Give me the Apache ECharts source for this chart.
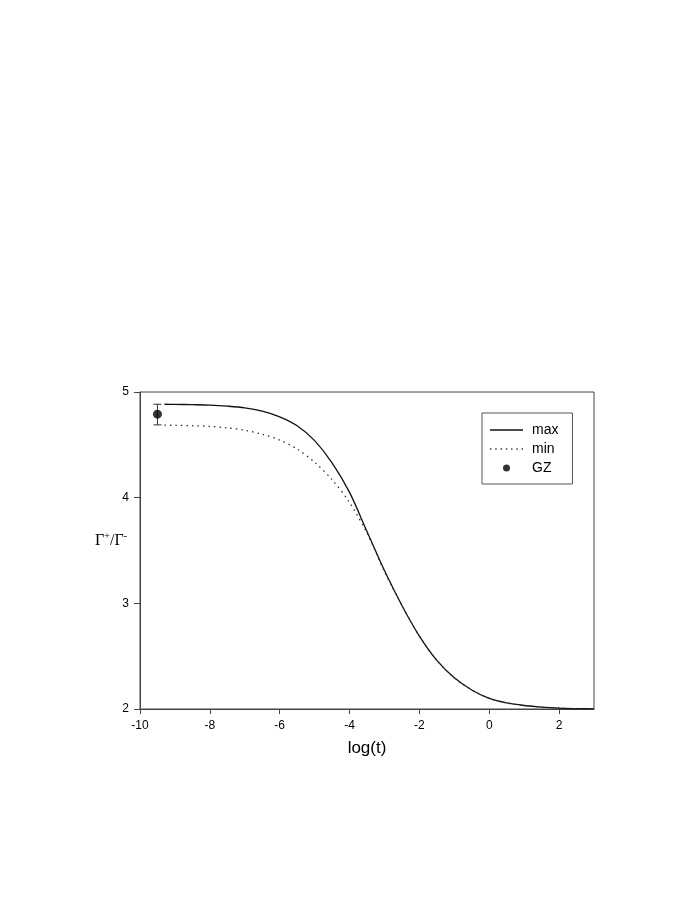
<!DOCTYPE html>
<html>
<head>
<meta charset="utf-8">
<script src="https://cdn.jsdelivr.net/npm/echarts@6/dist/echarts.min.js"></script>
<style>
  html, body { margin: 0; padding: 0; background: #fff; }
  #chart { width: 692px; height: 905px; }
</style>
</head>
<body>
<div id="chart"></div>
<script>
// log(t) positions for the two curves
const logT = [-9.3, -9, -8.5, -8, -7.5, -7, -6.5, -6, -5.5, -5, -4.5, -4, -3.5, -3, -2.5, -2, -1.5, -1, -0.5, 0, 0.5, 1, 1.5, 2, 2.5, 3];
const maxVals = [4.884, 4.883, 4.880, 4.876, 4.866, 4.850, 4.818, 4.765, 4.68, 4.54, 4.33, 4.05, 3.68, 3.31, 2.98, 2.69, 2.46, 2.295, 2.18, 2.10, 2.057, 2.033, 2.018, 2.009, 2.004, 2.001];
const minVals = [4.686, 4.685, 4.681, 4.675, 4.66, 4.638, 4.60, 4.545, 4.46, 4.335, 4.17, 3.955, 3.665, 3.30, 2.98, 2.69, 2.46, 2.295, 2.18, 2.10, 2.057, 2.033, 2.018, 2.009, 2.004, 2.001];

// GZ point with its error bar
const gzX = [-9.5];
const gzY = [4.79];
const gzLow = [4.689];
const gzHigh = [4.884];

const xTicks = [-10, -8, -6, -4, -2, 0, 2];
const yTicks = [2, 3, 4, 5];

const pair = (xs, ys) => xs.map((x, i) => [x, ys[i]]);

// legend icons drawn as paths: a solid stroke and a row of dots
const solidIcon = 'path://M0,0H33V1.3H0Z';
const dotIcon = 'path://M0,0h1.3v1.3h-1.3z M5,0h1.3v1.3h-1.3z M10,0h1.3v1.3h-1.3z M15,0h1.3v1.3h-1.3z M20,0h1.3v1.3h-1.3z M25,0h1.3v1.3h-1.3z M30,0h1.3v1.3h-1.3z';

const chart = echarts.init(document.getElementById('chart'));

chart.setOption({
    animation: false,
    backgroundColor: '#fff',
    textStyle: { fontFamily: 'Liberation Sans, Arial, sans-serif' },
    grid: {
        left: 140, right: 98, top: 392, bottom: 196,
        show: true,
        borderColor: '#444',
        borderWidth: 1
    },
    legend: {
        data: [
            { name: 'max', icon: solidIcon, itemStyle: { color: '#111' } },
            { name: 'min', icon: dotIcon, itemStyle: { color: '#333' } },
            { name: 'GZ', icon: 'circle', itemStyle: { color: '#000' } }
        ],
        orient: 'vertical',
        left: 482,
        top: 413,
        padding: [10, 14, 9, 8],
        itemGap: 5,
        itemWidth: 33,
        itemHeight: 7,
        borderColor: '#555',
        borderWidth: 1,
        textStyle: { fontSize: 14, color: '#000', padding: [0, 0, 0, 4] }
    },
    xAxis: {
        type: 'value',
        min: -10, max: 3, interval: 2,
        name: 'log(t)',
        nameLocation: 'middle',
        nameGap: 31,
        nameTextStyle: { fontSize: 17, color: '#000' },
        splitLine: { show: false },
        axisLine: { onZero: false, lineStyle: { color: '#444' } },
        axisTick: { customValues: xTicks, length: 5, lineStyle: { color: '#444' } },
        axisLabel: { customValues: xTicks, color: '#000', fontSize: 12, margin: 11 }
    },
    yAxis: {
        type: 'value',
        min: 2, max: 5, interval: 1,
        name: '{g|Γ}{s|+}{g|/Γ}{s|-}',
        nameLocation: 'middle',
        nameRotate: 0,
        nameGap: 13,
        nameMoveOverlap: false,
        nameTextStyle: {
            padding: [0, 0, 20, 0],
            rich: {
                g: { fontFamily: 'Liberation Serif, Times New Roman, serif', fontSize: 16, color: '#000' },
                s: { fontFamily: 'Liberation Serif, Times New Roman, serif', fontSize: 10, color: '#000', verticalAlign: 'top', padding: [0, 0, 8, 0] }
            }
        },
        splitLine: { show: false },
        axisLine: { show: true, onZero: false, lineStyle: { color: '#444' } },
        axisTick: { customValues: yTicks, length: 6, lineStyle: { color: '#444' } },
        axisLabel: { customValues: yTicks, color: '#000', fontSize: 12, margin: 11 }
    },
    series: [
        {
            name: 'max',
            type: 'line',
            data: pair(logT, maxVals),
            smooth: 0.3,
            symbol: 'none',
            lineStyle: { color: '#111', width: 1.3 },
            itemStyle: { color: '#111' }
        },
        {
            name: 'min',
            type: 'line',
            data: pair(logT, minVals),
            smooth: 0.3,
            symbol: 'none',
            lineStyle: { color: '#333', width: 1.3, type: [1.5, 4] },
            itemStyle: { color: '#333' }
        },
        {
            name: 'GZ err',
            type: 'custom',
            data: gzX.map((x, i) => [x, gzLow[i], gzHigh[i]]),
            renderItem(params, api) {
                const lo = api.coord([api.value(0), api.value(1)]);
                const hi = api.coord([api.value(0), api.value(2)]);
                const cap = 4;
                const style = { stroke: '#333', lineWidth: 1 };
                return {
                    type: 'group',
                    children: [
                        { type: 'line', shape: { x1: lo[0], y1: lo[1], x2: hi[0], y2: hi[1] }, style },
                        { type: 'line', shape: { x1: lo[0] - cap, y1: lo[1], x2: lo[0] + cap, y2: lo[1] }, style },
                        { type: 'line', shape: { x1: hi[0] - cap, y1: hi[1], x2: hi[0] + cap, y2: hi[1] }, style }
                    ]
                };
            },
            z: 3
        },
        {
            name: 'GZ',
            type: 'scatter',
            data: pair(gzX, gzY),
            symbol: 'circle',
            symbolSize: 9,
            itemStyle: { color: '#000' },
            z: 4
        }
    ]
});
</script>
</body>
</html>
